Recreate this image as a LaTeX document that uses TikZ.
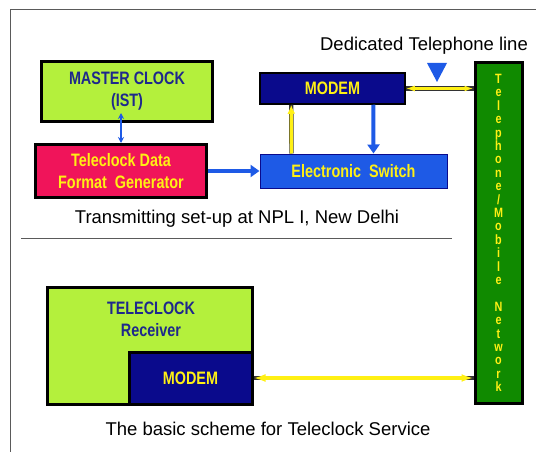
\documentclass[tikz,border=0pt]{standalone}
\usepackage{fontspec}
\setmainfont{Liberation Sans}
\newfontfamily\narrowfont[FakeStretch=0.8]{Liberation Sans}
\usetikzlibrary{arrows.meta,positioning}

\definecolor{clocklime}{RGB}{180,240,60}
\definecolor{clocknavy}{RGB}{30,40,140}
\definecolor{genpink}{RGB}{240,20,90}
\definecolor{labelyellow}{RGB}{255,240,20}
\definecolor{modemblue}{RGB}{10,10,140}
\definecolor{switchblue}{RGB}{30,90,230}
\definecolor{netgreen}{RGB}{16,138,0}
\definecolor{framegray}{RGB}{90,90,90}

\begin{document}
\begin{tikzpicture}[
x=1pt,
y=-1pt,
every node/.style={font=\fontsize{18.5}{22}\selectfont},
box/.style={draw=black, line width=3pt, inner sep=0pt, align=center},
boxtext/.style={font=\narrowfont\bfseries\fontsize{18}{22}\selectfont},
barrow/.style={switchblue, line width=4pt, -{Triangle[length=9pt,width=12pt]}},
yarrow/.style={labelyellow, line width=3.4pt, -{Latex[length=9pt,width=8pt]},
  preaction={draw=black!80, line width=4.4pt, -}}
]

\useasboundingbox (0,0) rectangle (536,452);

% frame and separator
\draw[framegray, line width=1pt] (536,10) -- (10,10) -- (10,452);
\draw[framegray, line width=0.8pt] (21,238) -- (452,238);

% transmitting side
\node[box, boxtext, fill=clocklime, text=clocknavy,
  minimum width=171pt, minimum height=60pt] (master) at (127,91.5) {MASTER CLOCK\\(IST)};
\node[box, boxtext, fill=genpink, text=labelyellow,
  minimum width=171pt, minimum height=53pt] (gen) at (121,171) {Teleclock Data\\Format\ \ Generator};
\node[box, boxtext, fill=modemblue, text=labelyellow, line width=1.5pt,
  minimum width=145pt, minimum height=31pt] (modem) at (332.5,88.5) {MODEM};
\node[box, boxtext, fill=switchblue, draw=modemblue, text=labelyellow, line width=1pt,
  minimum width=187pt, minimum height=34pt] (sw) at (353.5,171) {Electronic\ \ Switch};

% network column
\node[box, fill=netgreen, text=labelyellow,
  font=\narrowfont\bfseries\fontsize{13.5}{13.4}\selectfont,
  minimum width=47pt, minimum height=340pt] (net) at (498.5,233)
  {T\\e\\l\\e\\p\\h\\o\\n\\e\\/\\M\\o\\b\\i\\l\\e\\\strut\\N\\e\\t\\w\\o\\r\\k};

% receiving side
\node[box, fill=clocklime, minimum width=205pt, minimum height=117pt] (recv) at (149.5,345.5) {};
\node[box, boxtext, fill=modemblue, text=labelyellow,
  minimum width=123pt, minimum height=52pt, anchor=south east] (rmodem) at (recv.south east) {MODEM};
\node[boxtext, text=clocknavy, align=center] (recvtext) at (151,319) {TELECLOCK\\Receiver};

% captions
\node (dedline) at (424,46) {Dedicated Telephone line};
\node (txcap) at (237,219) {Transmitting set-up at NPL I, New Delhi};
\node (svcap) at (268,429) {The basic scheme for Teleclock Service};

% line marker
\coordinate (tri) at (437,82);
\fill[switchblue] (tri) -- ++(-10,-19) -- ++(20,0) -- cycle;

% connections
\draw[switchblue, line width=2pt, {Stealth[length=6pt,width=6pt]}-{Stealth[length=6pt,width=6pt]}]
  (gen.north) -- ([yshift=10pt]gen.north |- master.south);
\draw[barrow] (gen.east) -- (gen.east -| sw.west);
\draw[yarrow] ([xshift=32pt]sw.north west) -- ([xshift=32pt]modem.south west);
\draw[barrow] ([xshift=114pt]modem.south west) -- ([xshift=114pt]sw.north west);
\draw[yarrow, line width=2.6pt, preaction={draw=black!80, line width=3.4pt, -},
  {Latex[length=9pt,width=6pt]}-{Latex[length=9pt,width=6pt]}]
  (modem.east) -- (modem.east -| net.west);
\draw[yarrow, {Latex[length=12pt,width=8pt]}-{Latex[length=12pt,width=8pt]}]
  (rmodem.east) -- (rmodem.east -| net.west);

\end{tikzpicture}
\end{document}
